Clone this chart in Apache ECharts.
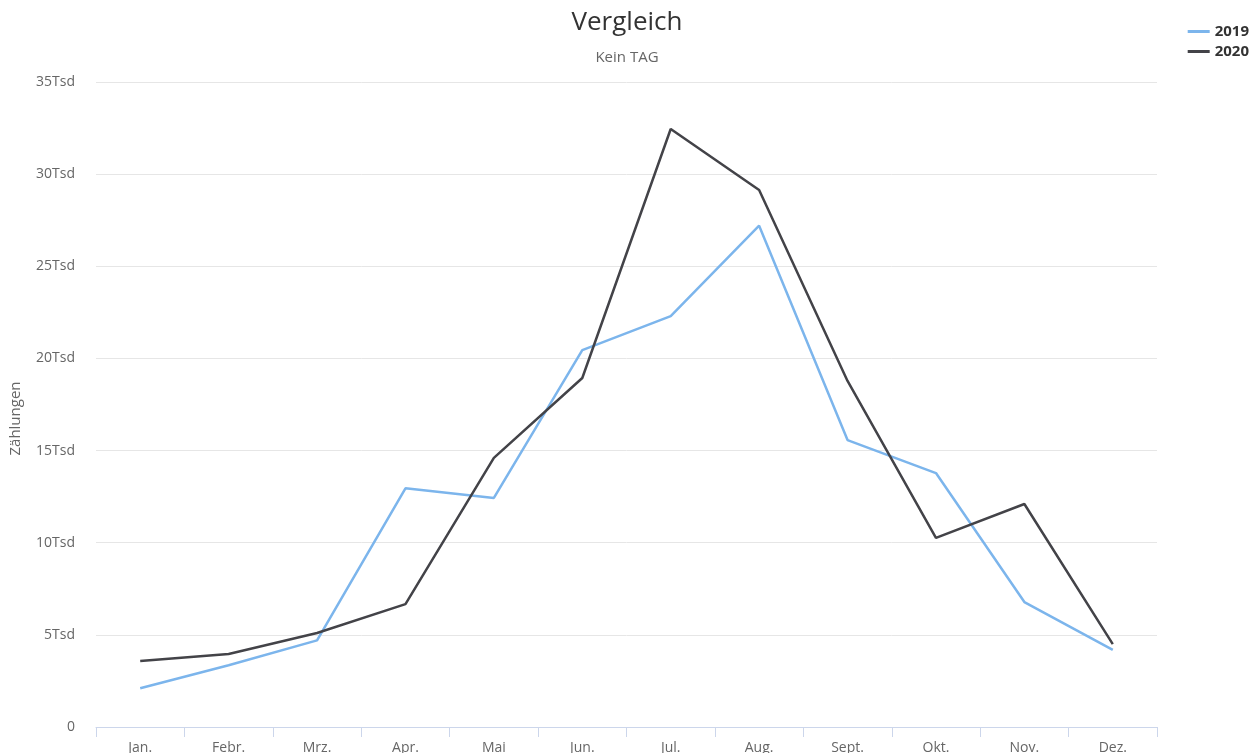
<!DOCTYPE html>
<html>
<head>
<meta charset="utf-8">
<script src="https://cdn.jsdelivr.net/npm/echarts@6/dist/echarts.min.js"></script>
<style>
  html, body { margin: 0; padding: 0; background: #fff; }
  #chart { width: 1254px; height: 753px; }
</style>
</head>
<body>
<div id="chart"></div>
<script>
// Monate
const months = ['Jan.', 'Febr.', 'Mrz.', 'Apr.', 'Mai', 'Jun.', 'Jul.', 'Aug.', 'Sept.', 'Okt.', 'Nov.', 'Dez.']
// Zählungen pro Jahr
const data2019 = [2100, 3350, 4700, 12950, 12430, 20450, 22300, 27200, 15570, 13780, 6780, 4180]
const data2020 = [3580, 3960, 5100, 6670, 14600, 18940, 32450, 29140, 18780, 10260, 12100, 4500]

const fontFamily = '"Open Sans", Lato, sans-serif'

const chart = echarts.init(document.getElementById('chart'))

chart.setOption({
  color: ['#7cb5ec', '#434348'],
  textStyle: { fontFamily: fontFamily },
  title: {
    text: 'Vergleich',
    subtext: 'Kein TAG',
    left: 'center',
    top: 5,
    itemGap: 14,
    textStyle: { color: '#333', fontSize: 26, fontWeight: 'normal', fontFamily: fontFamily },
    subtextStyle: { color: '#666', fontSize: 15, fontFamily: fontFamily }
  },
  legend: {
    orient: 'vertical',
    right: 0,
    top: 19,
    itemWidth: 22,
    itemHeight: 3,
    itemGap: 5,
    icon: 'rect',
    textStyle: { color: '#333', fontSize: 15, fontWeight: 'bold', fontFamily: fontFamily },
    data: ['2019', '2020']
  },
  grid: {
    left: 96,
    right: 97,
    top: 82,
    bottom: 26,
    outerBoundsMode: 'none',
    containLabel: false
  },
  xAxis: {
    type: 'category',
    data: months,
    boundaryGap: true,
    axisLine: { lineStyle: { color: '#ccd6eb' } },
    axisTick: { show: true, length: 10, lineStyle: { color: '#ccd6eb' } },
    axisLabel: { color: '#666', fontSize: 14, margin: 14 }
  },
  yAxis: {
    type: 'value',
    min: 0,
    max: 35000,
    interval: 5000,
    name: 'Zählungen',
    nameLocation: 'middle',
    nameGap: 73,
    nameTextStyle: { color: '#666', fontSize: 15, padding: [0, 28, 0, 0] },
    axisLine: { show: false },
    axisTick: { show: false },
    axisLabel: {
      color: '#666',
      fontSize: 14,
      margin: 21,
      formatter: function (v) { return v === 0 ? '0' : (v / 1000) + 'Tsd' }
    },
    splitLine: { lineStyle: { color: '#e6e6e6' } }
  },
  series: [
    {
      name: '2019',
      type: 'line',
      data: data2019,
      showSymbol: false,
      lineStyle: { width: 2.5 }
    },
    {
      name: '2020',
      type: 'line',
      data: data2020,
      showSymbol: false,
      lineStyle: { width: 2.5 }
    }
  ]
})
</script>
</body>
</html>
